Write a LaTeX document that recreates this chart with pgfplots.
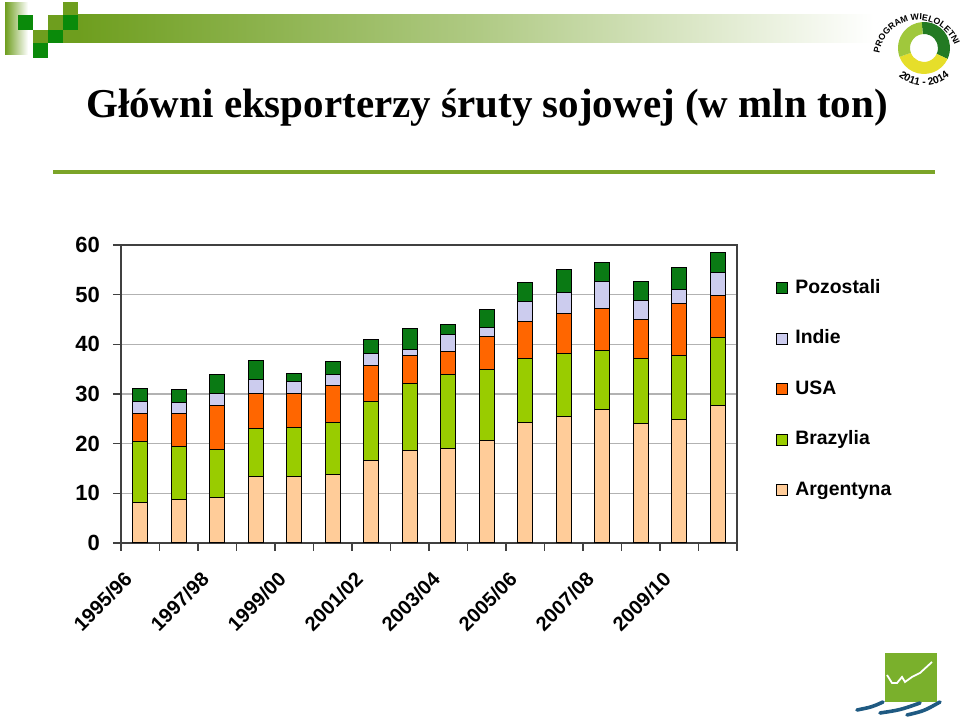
\documentclass[border=0pt]{standalone}
\usepackage{pgfplots}
\pgfplotsset{compat=1.18}
\usepackage{pgfplotstable}
\usepackage{fontspec}
\setmainfont{Liberation Serif}
\newfontfamily\arial{Liberation Sans}
\usetikzlibrary{decorations.text}

\definecolor{cArg}{HTML}{FFCC99}
\definecolor{cBra}{HTML}{99CC00}
\definecolor{cUSA}{HTML}{FF6600}
\definecolor{cInd}{HTML}{CCCCEE}
\definecolor{cPoz}{HTML}{0A7A14}
\definecolor{olive}{HTML}{6E9E1E}
\definecolor{dgreen}{HTML}{0A8A0A}
\definecolor{lineg}{HTML}{7BA428}
\definecolor{ringdark}{HTML}{237A23}
\definecolor{ringlight}{HTML}{A0C83C}
\definecolor{ringyel}{HTML}{E6DE2A}
\definecolor{icongreen}{HTML}{7AB02C}
\definecolor{iconblue}{HTML}{1F5A82}

\pgfplotstableread{
c Arg Bra USA Ind Poz
0 8.2 12.2 5.6 2.5 2.7
1 8.85 10.55 6.6 2.3 2.7
2 9.25 9.65 8.7 2.5 3.8
3 13.4 9.7 7.1 2.8 3.7
4 13.3 10.0 6.9 2.4 1.6
5 13.7 10.6 7.5 2.2 2.5
6 16.6 11.8 7.3 2.5 2.7
7 18.6 13.6 5.6 1.2 4.1
8 19.1 14.9 4.6 3.4 1.9
9 20.7 14.2 6.6 1.8 3.8
10 24.2 12.9 7.4 4.2 3.7
11 25.55 12.65 8.1 4.2 4.6
12 26.8 12.0 8.5 5.3 3.9
13 24.0 13.1 7.8 3.85 3.95
14 24.9 12.9 10.4 2.9 4.4
15 27.6 13.8 8.4 4.6 4.0
}\data

\begin{document}
\begin{tikzpicture}
\path[use as bounding box] (0,0) rectangle (480pt,360.5pt);

% header decoration
\shade[left color=olive, right color=white] (2.5pt,333pt) rectangle (14pt,359pt);
\shade[left color=olive, right color=white, middle color=olive!55!white] (39pt,339pt) rectangle (437pt,353pt);
\fill[olive] (31.5pt,353pt) rectangle (39pt,359.5pt);
\fill[dgreen] (9pt,345.5pt) rectangle (16.5pt,353pt);
\fill[olive] (24pt,345.5pt) rectangle (31.5pt,353pt);
\fill[dgreen] (31.5pt,345.5pt) rectangle (39pt,353pt);
\fill[olive] (16.5pt,339pt) rectangle (24pt,345.5pt);
\fill[dgreen] (24pt,339pt) rectangle (31.5pt,345.5pt);
\fill[olive] (31.5pt,339pt) rectangle (39pt,345.5pt);
\fill[dgreen] (16.5pt,331.5pt) rectangle (24pt,339pt);

% logo top right
\begin{scope}[shift={(462pt,336.5pt)}]
\fill[ringdark] (95:13pt) arc[start angle=95,end angle=-25,radius=13pt] -- (-25:7pt) arc[start angle=-25,end angle=95,radius=7pt] -- cycle;
\fill[ringyel] (-25:13pt) arc[start angle=-25,end angle=-160,radius=13pt] -- (-160:7pt) arc[start angle=-160,end angle=-25,radius=7pt] -- cycle;
\fill[ringlight] (200:13pt) arc[start angle=200,end angle=95,radius=13pt] -- (95:7pt) arc[start angle=95,end angle=200,radius=7pt] -- cycle;
\path[decorate, decoration={text along path, text align=center, text={|\arial\bfseries\fontsize{5.2}{6}\selectfont|2011 - 2014}}] (212:19pt) arc[start angle=212,end angle=328,radius=19pt];
\end{scope}
\begin{scope}[shift={(459pt,331pt)}]
\path[decorate, decoration={text along path, text align=center, text={|\arial\bfseries\fontsize{4.4}{5}\selectfont|PROGRAM WIELOLETNI}}] (170:19.5pt) arc[start angle=170,end angle=22,radius=19.5pt];
\end{scope}

% title
\node[anchor=base, font=\bfseries\fontsize{20.5}{24}\selectfont, inner sep=0pt] at (243.5pt,301.5pt) {Główni eksporterzy śruty sojowej (w mln ton)};
\draw[lineg, line width=2pt] (26.5pt,274.5pt) -- (467.5pt,274.5pt);

% bottom-right icon
\fill[icongreen] (442.5pt,9.7pt) rectangle (468.3pt,33.8pt);
\draw[white, line width=0.9pt] (443.5pt,23pt) -- (446pt,19pt) -- (448.5pt,19pt) -- (451pt,22pt) -- (452.5pt,19.5pt) -- (456pt,22pt) -- (460pt,24pt) -- (466pt,29.5pt);
\draw[iconblue, line width=1.8pt, line cap=round] (428.5pt,5.5pt) .. controls (436pt,7pt) .. (441.5pt,9.5pt);
\draw[iconblue, line width=1.8pt, line cap=round] (440pt,4pt) .. controls (450pt,5.5pt) .. (460pt,9pt);
\draw[iconblue, line width=1.8pt, line cap=round] (453.5pt,3pt) .. controls (462pt,5pt) .. (470pt,9.5pt);

\begin{axis}[
  at={(60.5pt,89pt)}, anchor=south west,
  width=308pt, height=149pt, scale only axis,
  ybar stacked, bar width=7.5pt,
  xmin=-0.5, xmax=15.5, ymin=0, ymax=60,
  ytick={0,10,...,60},
  xtick={0,2,...,14},
  xticklabels={1995/96,1997/98,1999/00,2001/02,2003/04,2005/06,2007/08,2009/10},
  minor xtick={-0.5,0.5,...,15.5},
  major x tick style={draw=none},
  minor x tick style={draw=black!75, line width=0.8pt},
  xtick pos=lower, ytick pos=left,
  tick align=outside, major tick length=4pt, minor tick length=4pt,
  ymajorgrids, grid style={black!30, line width=0.6pt},
  axis line style={draw=black!75, line width=0.8pt},
  tick style={draw=black!75, line width=0.8pt},
  ticklabel style={font=\arial\bfseries\fontsize{11}{13}\selectfont},
  xticklabel style={xshift=-3.5pt, yshift=-10pt, rotate=45, anchor=east, font=\arial\bfseries\fontsize{10}{12}\selectfont},
  /pgf/number format/assume math mode=true,
  yticklabel style={xshift=-3pt},
  reverse legend,
  legend style={at={(axis description cs:1.0633,0.8926)}, anchor=north west, draw=none, fill=none,
    font=\arial\bfseries\fontsize{9.7}{11}\selectfont, inner sep=0pt, row sep=14.25pt,
    nodes={text height=7pt, text depth=2pt, inner sep=1pt}},
  legend cell align=left,
  legend image code/.code={\draw[#1, line width=0.5pt] (0pt,-2.75pt) rectangle (5.5pt,2.75pt); \path (8pt,0pt);},
]
\addplot[fill=cArg, draw=black, line width=0.5pt] table[x=c,y=Arg]{\data};
\addplot[fill=cBra, draw=black, line width=0.5pt] table[x=c,y=Bra]{\data};
\addplot[fill=cUSA, draw=black, line width=0.5pt] table[x=c,y=USA]{\data};
\addplot[fill=cInd, draw=black, line width=0.5pt] table[x=c,y=Ind]{\data};
\addplot[fill=cPoz, draw=black, line width=0.5pt] table[x=c,y=Poz]{\data};
\legend{Argentyna, Brazylia, USA, Indie, Pozostali}
\end{axis}
\end{tikzpicture}
\end{document}
